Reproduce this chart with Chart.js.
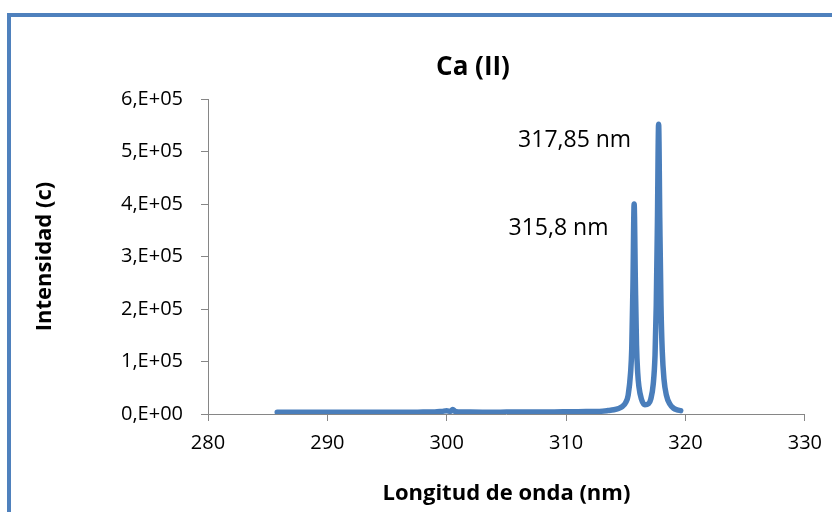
<!DOCTYPE html>
<html>
<head>
<meta charset="utf-8">
<script src="https://cdn.jsdelivr.net/npm/chart.js@4.4.1/dist/chart.umd.min.js"></script>
<style>
  html, body { margin: 0; padding: 0; background: #fff; overflow: hidden; }
  #frame { position: absolute; left: 7px; top: 13px; width: 900px; height: 600px; border: 4px solid #4F81BD; box-sizing: border-box; }
  #wrap { position: absolute; left: 0; top: 0; width: 832px; height: 512px; }
</style>
</head>
<body>
<div id="frame"></div>
<div id="wrap"><canvas id="c" width="832" height="512"></canvas></div>
<script>
// ---- data ----
const chartTitle = 'Ca (II)';
const xAxisTitle = 'Longitud de onda (nm)';
const yAxisTitle = 'Intensidad (c)';
const xTicks = [280, 290, 300, 310, 320, 330];
const yTicks = [0, 100000, 200000, 300000, 400000, 500000, 600000];
const yTickLabels = ['0,E+00', '1,E+05', '2,E+05', '3,E+05', '4,E+05', '5,E+05', '6,E+05'];
const wavelength = [285.8, 287, 288, 289, 290, 291, 292, 293, 294, 295, 296, 297, 298, 299, 299.6, 300.0, 300.3, 300.5, 300.7, 301, 302, 303, 304, 305, 306, 307, 308, 309, 310, 311, 312, 312.8, 313.5, 314.0, 314.4, 314.7, 315.0, 315.2, 315.4, 315.5, 315.6, 315.7, 315.8, 315.9, 316.0, 316.1, 316.3, 316.6, 316.9, 317.1, 317.3, 317.45, 317.55, 317.65, 317.75, 317.85, 317.95, 318.05, 318.2, 318.4, 318.7, 319.0, 319.3, 319.6];
const intensity = [3500, 3400, 3500, 3400, 3500, 3500, 3400, 3500, 3500, 3400, 3500, 3500, 3600, 3800, 5000, 6000, 5000, 8500, 5000, 4000, 3600, 3500, 3500, 3600, 3600, 3700, 3900, 4000, 4200, 4400, 4700, 5000, 6500, 8000, 10500, 14000, 22000, 36000, 78000, 125000, 245000, 400000, 255000, 130000, 78000, 52000, 29000, 17500, 19500, 29000, 57000, 112000, 205000, 365000, 552000, 365000, 205000, 122000, 66000, 36000, 18500, 11000, 8000, 6500];
const annotations = [
  { text: '317,85 nm', x: 315.45, y: 521000 },
  { text: '315,8 nm', x: 313.55, y: 353000 }
];

const FONT = "'Open Sans', 'DejaVu Sans', sans-serif";
const AXIS = '#868686';

const points = wavelength.map((w, i) => ({ x: w, y: intensity[i] }));

const overlay = {
  id: 'overlay',
  afterDraw(chart) {
    const ctx = chart.ctx;
    const xs = chart.scales.x, ys = chart.scales.y;
    ctx.save();
    ctx.fillStyle = '#000';
    ctx.font = 'bold 26px ' + FONT;
    ctx.textAlign = 'center';
    ctx.textBaseline = 'middle';
    ctx.fillText(chartTitle, 473, 68);
    ctx.font = '23px ' + FONT;
    ctx.textAlign = 'right';
    annotations.forEach(a => {
      ctx.fillText(a.text, xs.getPixelForValue(a.x), ys.getPixelForValue(a.y));
    });
    ctx.restore();
  }
};

new Chart(document.getElementById('c'), {
  type: 'scatter',
  data: {
    datasets: [{
      data: points,
      showLine: true,
      borderColor: '#4A7EBB',
      borderWidth: 5.5,
      pointRadius: 0,
      cubicInterpolationMode: 'monotone',
      borderCapStyle: 'round',
      borderJoinStyle: 'round',
      fill: false
    }]
  },
  options: {
    responsive: false,
    animation: false,
    events: [],
    layout: { padding: { top: 99, right: 26, left: 0, bottom: 0 } },
    plugins: { legend: { display: false }, tooltip: { enabled: false }, title: { display: false } },
    scales: {
      x: {
        type: 'linear',
        min: 280, max: 330,
        afterBuildTicks: s => { s.ticks = xTicks.map(v => ({ value: v })); },
        afterFit: s => { s.height = 98; },
        grid: { display: true, drawOnChartArea: false, drawTicks: true, tickLength: 7, color: AXIS, tickColor: AXIS },
        border: { display: true, color: AXIS, width: 1 },
        ticks: { color: '#000', font: { family: FONT, size: 20 }, padding: 10, maxRotation: 0 },
        title: { display: true, text: xAxisTitle, color: '#000', font: { family: FONT, size: 22, weight: 'bold' }, padding: { top: 0, bottom: 5 } }
      },
      y: {
        type: 'linear',
        min: 0, max: 600000,
        afterBuildTicks: s => { s.ticks = yTicks.map(v => ({ value: v })); },
        afterFit: s => { s.width = 208; },
        grid: { display: true, drawOnChartArea: false, drawTicks: true, tickLength: 7, color: AXIS, tickColor: AXIS },
        border: { display: true, color: AXIS, width: 1 },
        ticks: { color: '#000', font: { family: FONT, size: 20 }, padding: 18,
          callback: (v) => { const i = yTicks.indexOf(v); return i >= 0 ? yTickLabels[i] : ''; } },
        title: { display: true, text: yAxisTitle, color: '#000', font: { family: FONT, size: 22, weight: 'bold' }, padding: { top: 32, bottom: 0 } }
      }
    }
  },
  plugins: [overlay]
});
</script>
</body>
</html>
